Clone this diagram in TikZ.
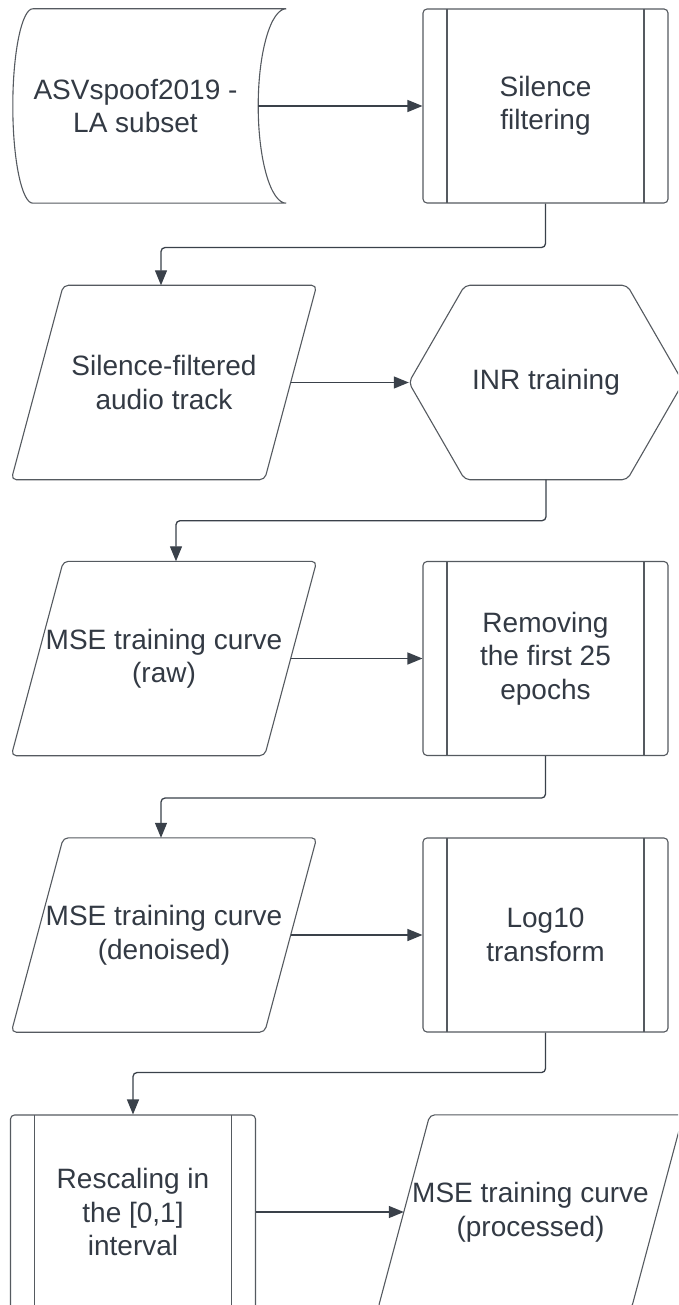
\documentclass[tikz,border=0pt]{standalone}
\usepackage{fontspec}
\setmainfont{Liberation Sans}
\usetikzlibrary{arrows.meta,calc}

\definecolor{ink}{HTML}{333A44}
\definecolor{edge}{HTML}{3A414A}
\definecolor{outline}{HTML}{555A60}

\tikzset{
  lbl/.style={text=ink, font=\fontsize{28}{33.5}\selectfont, align=center,
    inner sep=0pt, minimum height=194pt},
  shapeline/.style={draw=outline, line width=1.1pt, rounded corners=5pt},
  procbox/.style={lbl, draw=outline, line width=1.1pt, rounded corners=4pt,
    minimum width=245pt,
    path picture={
      \draw[outline, line width=1.1pt]
        ([xshift=24pt]path picture bounding box.north west) --
        ([xshift=24pt]path picture bounding box.south west)
        ([xshift=-24pt]path picture bounding box.north east) --
        ([xshift=-24pt]path picture bounding box.south east);
    }},
  slantlbl/.style={lbl, minimum width=253pt},
  flow/.style={draw=edge, line width=1.3pt,
    -{Triangle[length=15pt,width=12pt]}},
}

% slanted input/output box drawn around a text node
\newcommand\slantbox[1]{%
  \draw[shapeline] ($(#1.north west)+(26,0)$) -- ($(#1.north east)+(26,0)$)
    -- ($(#1.south east)+(-26,0)$) -- ($(#1.south west)+(-26,0)$) -- cycle;}

\begin{document}
\begin{tikzpicture}[x=1pt, y=-1pt]
  \fill[white] (0,0) rectangle (678,1305);
  \useasboundingbox (0,0) rectangle (678,1305);
  \clip (0,0) rectangle (678,1305);

  % row 1: data source and silence filtering
  \node[lbl, minimum width=245pt] (asv) at (135.5,106) {ASVspoof2019 -\\LA subset};
  \draw[shapeline, rounded corners=0pt]
    ($(asv.north west)+(20,0)$) -- ($(asv.north east)+(28,0)$)
    .. controls ($(asv.north east)+(12.5,0)$) and ($(asv.east)+(0,-53.6)$) .. (asv.east)
    .. controls ($(asv.east)+(0,53.6)$) and ($(asv.south east)+(12.5,0)$) .. ($(asv.south east)+(28,0)$)
    -- ($(asv.south west)+(20,0)$)
    .. controls ($(asv.south west)+(9,0)$) and ($(asv.west)+(0,53.6)$) .. (asv.west)
    .. controls ($(asv.west)+(0,-53.6)$) and ($(asv.north west)+(9,0)$) .. ($(asv.north west)+(20,0)$);
  \node[procbox] (filt) at (545.5,106) {Silence\\filtering};

  % row 2
  \node[slantlbl] (p1) at (164,382.5) {Silence-filtered\\audio track};
  \slantbox{p1}
  \node[lbl, minimum width=274pt] (inr) at (546,382.5) {INR training};
  \draw[shapeline] (inr.west) -- ($(inr.north west)+(56,0)$) -- ($(inr.north east)+(-56,0)$)
    -- (inr.east) -- ($(inr.south east)+(-56,0)$) -- ($(inr.south west)+(56,0)$) -- cycle;

  % row 3
  \node[slantlbl] (p2) at (164,658.5) {MSE training curve\\(raw)};
  \slantbox{p2}
  \node[procbox] (rem) at (545.5,658.5) {Removing\\the first 25\\epochs};

  % row 4
  \node[slantlbl] (p3) at (164,935) {MSE training curve\\(denoised)};
  \slantbox{p3}
  \node[procbox] (log) at (545.5,935) {Log10\\transform};

  % row 5
  \node[procbox] (resc) at (133,1212) {Rescaling in\\the [0,1]\\interval};
  \node[slantlbl] (p4) at (530.5,1212) {MSE training curve\\(processed)};
  \slantbox{p4}

  % connectors
  \draw[flow] (asv.east) -- (filt.west);
  \draw[flow] (filt.south) [rounded corners=4pt] -- ++(0,44) -| ($(p1.north)+(-3,0)$);
  \draw[flow] (p1.east) -- (inr.west);
  \draw[flow] (inr.south) [rounded corners=4pt] -- ++(0,41) -| ($(p2.north)+(12,0)$);
  \draw[flow] (p2.east) -- (rem.west);
  \draw[flow] (rem.south) [rounded corners=4pt] -- ++(0,42) -| ($(p3.north)+(-3,0)$);
  \draw[flow] (p3.east) -- (log.west);
  \draw[flow] (log.south) [rounded corners=4pt] -- ++(0,40) -| (resc.north);
  \draw[flow] (resc.east) -- (p4.west);
\end{tikzpicture}
\end{document}
